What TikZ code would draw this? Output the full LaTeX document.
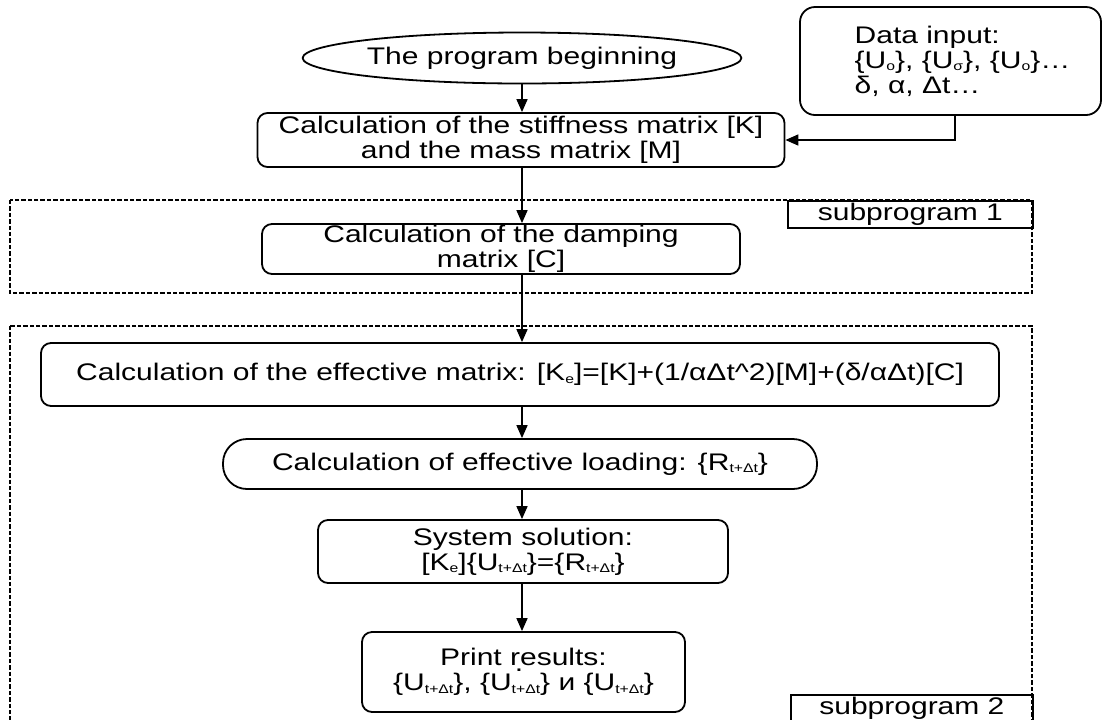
\documentclass[tikz,border=0pt]{standalone}
\usepackage{fontspec}
\setmainfont{Liberation Sans}[FakeStretch=1.25]
\usepackage{tikz}
\usetikzlibrary{arrows.meta, positioning, shapes.geometric}
\newcommand\sbs[1]{\raisebox{-0.2ex}{\fontsize{6.3}{6.3}\selectfont #1}}
\newcommand\udot{\smash{\rlap{\kern1.6pt\raisebox{9.5pt}{.}}}}
\newcommand\ind{\hspace*{12pt}}

\begin{document}
\begin{tikzpicture}[x=0.5pt, y=-0.5pt, font=\fontsize{12}{12.5}\selectfont,
  proc/.style={draw, line width=0.9pt, rounded corners=5pt, align=center,
               inner sep=0pt},
  term/.style={draw, line width=0.9pt, ellipse, inner sep=0pt,
               minimum width=177pt, minimum height=25.5pt},
  io/.style={draw, line width=0.9pt, rounded corners=7.5pt, align=left,
             minimum width=150.5pt, minimum height=54pt},
  grp/.style={line width=0.6pt, dash pattern=on 2.2pt off 1pt},
  lbl/.style={draw, line width=0.9pt, anchor=north west, inner sep=0pt},
  arr/.style={-{Triangle[length=6.5pt, width=5.5pt]}, line width=0.8pt}]
  \useasboundingbox (0,0) rectangle (1103,719);
  \clip (0,0) rectangle (1103,719);
  % subprogram frames
  \draw[grp] (10,200) rectangle (1032,293);
  \draw[grp] (10,326) rectangle (1032,740);
  \node[lbl, minimum width=122.5pt, text height=10pt, text depth=3.5pt]
    (tag1) at (787,200) {subprogram 1};
  \node[lbl, minimum width=121pt, text height=10pt, text depth=8pt]
    (tag2) at (790,694) {subprogram 2};
  % blocks
  \node[term] (start) at (522,58) {The program beginning};
  \node[io] (data) at (950.5,61)
    {\ind Data input:\\ \ind\{U\sbs{o}\}, \{U\sbs{σ}\}, \{U\sbs{o}\}…\\ \ind δ, α, Δt…};
  \node[proc, minimum width=263.5pt, minimum height=27pt] (stiff) at (521,140)
    {Calculation of the stiffness matrix [K]\\ and the mass matrix [M]};
  \node[proc, minimum width=239pt, minimum height=25pt] (damp) at (501,249)
    {Calculation of the damping\\ matrix [C]};
  \node[proc, minimum width=479pt, minimum height=31.5pt] (eff) at (520,374.5)
    {Calculation of the effective matrix: [K\sbs{e}]=[K]+(1/αΔt\textasciicircum 2)[M]+(δ/αΔt)[C]};
  \node[proc, rounded corners=12pt, minimum width=297pt, minimum height=25pt]
    (load) at (520,464) {Calculation of effective loading: \{R\sbs{t+Δt}\}};
  \node[proc, minimum width=205pt, minimum height=31.5pt] (sys) at (523,551.5)
    {System solution:\\ {[}K\sbs{e}]\{U\sbs{t+Δt}\}=\{R\sbs{t+Δt}\}};
  \node[proc, minimum width=161.5pt, minimum height=40pt] (print) at (523.5,672)
    {Print results:\\ \{U\sbs{t+Δt}\}, \{U\udot\sbs{t+Δt}\} и \{U\sbs{t+Δt}\}};
  % connectors
  \draw[arr] ([xshift=2.25pt]data.south) |- (stiff.east);
  \draw[arr] (start.south) -- (start.south |- stiff.north);
  \draw[arr] (start.south |- stiff.south) -- (start.south |- damp.north);
  \draw[arr] (start.south |- damp.south) -- (start.south |- eff.north);
  \draw[arr] (start.south |- eff.south) -- (start.south |- load.north);
  \draw[arr] (start.south |- load.south) -- (start.south |- sys.north);
  \draw[arr] (start.south |- sys.south) -- (start.south |- print.north);
\end{tikzpicture}
\end{document}
